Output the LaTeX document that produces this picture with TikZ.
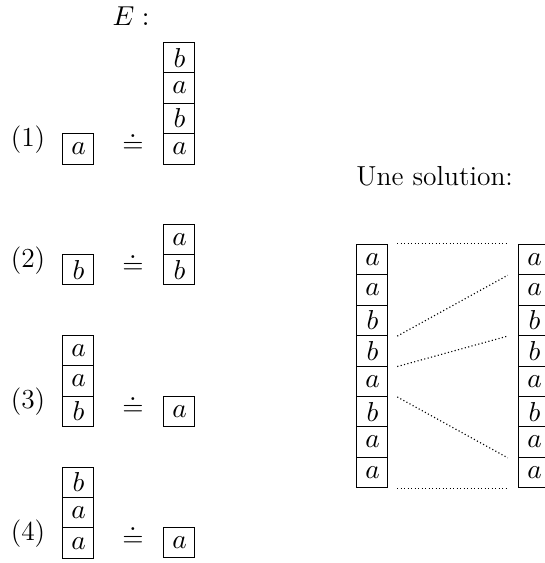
\documentclass[tikz,border=0pt]{standalone}
\usetikzlibrary{calc}
\begin{document}
\begin{tikzpicture}[x=0.4pt,y=-0.4pt,
  every node/.style={font=\fontsize{11}{13.5}\selectfont},
  cell/.style={draw,line width=0.4pt,minimum width=12.4pt,minimum height=12.172pt,inner sep=0pt},
  lbl/.style={inner sep=0pt},
  eqs/.style={inner sep=0pt,anchor=base},
  dots/.style={line width=0.45pt,dash pattern=on 0.45pt off 0.95pt}]
\useasboundingbox (0,0) rectangle (545,563);
\node[lbl] (E) at (131,16) {$E :$};
% row 1
\node[lbl] (n1) at (28,139.3) {(1)};
\node[cell] (r1l1) at (78.5,148.79) {$a$};
\node[eqs] (eq1) at (133,152.7) {$\doteq$};
\node[cell] (r1r1) at (179.5,57.5) {$b$};
\node[cell] (r1r2) at (179.5,87.93) {$a$};
\node[cell] (r1r3) at (179.5,118.36) {$b$};
\node[cell] (r1r4) at (179.5,148.79) {$a$};
% row 2
\node[lbl] (n2) at (28,260.2) {(2)};
\node[cell] (r2l1) at (78.5,269.7) {$b$};
\node[eqs] (eq2) at (133,273.6) {$\doteq$};
\node[cell] (r2r1) at (179.5,239.27) {$a$};
\node[cell] (r2r2) at (179.5,269.7) {$b$};
% row 3
\node[lbl] (n3) at (28,401.8) {(3)};
\node[cell] (r3l1) at (78.5,350.44) {$a$};
\node[cell] (r3l2) at (78.5,380.87) {$a$};
\node[cell] (r3l3) at (78.5,411.3) {$b$};
\node[eqs] (eq3) at (133,415.2) {$\doteq$};
\node[cell] (r3r1) at (179.5,411.3) {$a$};
% row 4
\node[lbl] (n4) at (28,533.6) {(4)};
\node[cell] (r4l1) at (78.5,482.24) {$b$};
\node[cell] (r4l2) at (78.5,512.67) {$a$};
\node[cell] (r4l3) at (78.5,543.1) {$a$};
\node[eqs] (eq4) at (133,546) {$\doteq$};
\node[cell] (r4r1) at (179.5,542.5) {$a$};
% solution
\node[lbl,anchor=west] (sol) at (356,176) {Une solution:};
\foreach \i/\l/\r in {1/a/a,2/a/a,3/b/b,4/b/b,5/a/a,6/b/b,7/a/a,8/a/a}{
  \node[cell] (L\i) at (372.5,{244.3+15.215+30.43*(\i-1)}) {$\l$};
  \node[cell] (R\i) at (534.5,{244.3+15.215+30.43*(\i-1)}) {$\r$};
}
\draw[dots] ([xshift=3.5pt]L1.north east) -- ([xshift=-4.3pt]R1.north west);
\draw[dots] ([xshift=3.5pt]L3.south east) -- ([xshift=-4.3pt]R1.south west);
\draw[dots] ([xshift=3.5pt]L4.south east) -- ([xshift=-4.3pt]R3.south west);
\draw[dots] ([xshift=3.5pt]L5.south east) -- ([xshift=-4.3pt]R7.south west);
\draw[dots] ([xshift=3.5pt]L8.south east) -- ([xshift=-4.3pt]R8.south west);
\end{tikzpicture}
\end{document}
